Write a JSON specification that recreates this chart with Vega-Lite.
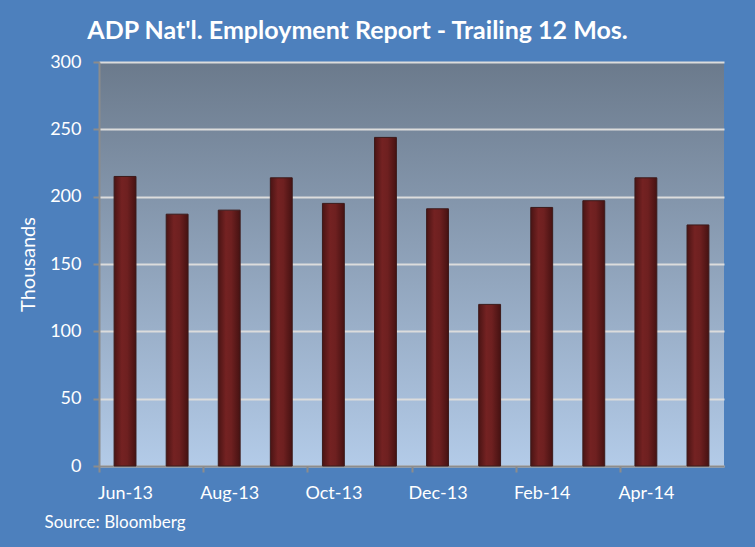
{
  "$schema": "https://vega.github.io/schema/vega-lite/v6.json",
  "width": 625,
  "height": 404,
  "autosize": "none",
  "padding": {"left": 99, "top": 62, "right": 31, "bottom": 81},
  "background": "#4d80bd",
  "title": {
    "text": "ADP Nat'l. Employment Report - Trailing 12 Mos.",
    "font": "Lato",
    "fontSize": 25,
    "fontWeight": "bold",
    "color": "white",
    "anchor": "middle",
    "dx": -54,
    "offset": 9
  },
  "data": {
    "values": [
      {"month": "Jun-13", "value": 215},
      {"month": "Jul-13", "value": 187},
      {"month": "Aug-13", "value": 190},
      {"month": "Sep-13", "value": 214},
      {"month": "Oct-13", "value": 195},
      {"month": "Nov-13", "value": 244},
      {"month": "Dec-13", "value": 191},
      {"month": "Jan-14", "value": 120},
      {"month": "Feb-14", "value": 192},
      {"month": "Mar-14", "value": 197},
      {"month": "Apr-14", "value": 214},
      {"month": "May-14", "value": 179}
    ]
  },
  "mark": {
    "type": "bar",
    "stroke": "#3c1a1a",
    "strokeWidth": 1,
    "color": {
      "gradient": "linear",
      "x1": 0, "y1": 0, "x2": 1, "y2": 0,
      "stops": [
        {"offset": 0, "color": "#4a1414"},
        {"offset": 0.35, "color": "#742222"},
        {"offset": 0.6, "color": "#6e2020"},
        {"offset": 1, "color": "#461212"}
      ]
    }
  },
  "encoding": {
    "x": {
      "field": "month",
      "type": "ordinal",
      "sort": null,
      "scale": {"paddingInner": 0.58, "paddingOuter": 0.29},
      "axis": {
        "values": ["Jun-13", "Aug-13", "Oct-13", "Dec-13", "Feb-14", "Apr-14"],
        "bandPosition": 0.5,
        "tickOffset": -26,
        "labelOffset": 26,
        "labelAngle": 0,
        "labelFont": "Lato",
        "labelFontSize": 18,
        "labelColor": "white",
        "labelPadding": 12,
        "tickColor": "#8c8c8c",
        "tickSize": 6,
        "tickWidth": 2,
        "domainColor": "#8c8c8c",
        "domainWidth": 2,
        "grid": false,
        "title": "Source: Bloomberg",
        "titleFont": "Lato",
        "titleFontSize": 17,
        "titleFontWeight": "normal",
        "titleColor": "white",
        "titleAlign": "left",
        "titleAnchor": "start",
        "titleX": -55,
        "titleY": 56,
        "titleBaseline": "middle"
      }
    },
    "y": {
      "field": "value",
      "type": "quantitative",
      "scale": {"domain": [0, 300]},
      "axis": {
        "values": [0, 50, 100, 150, 200, 250, 300],
        "title": "Thousands",
        "titleFont": "Lato",
        "titleFontSize": 20,
        "titleFontWeight": "normal",
        "titleColor": "white",
        "titlePadding": 11,
        "labelFont": "Lato",
        "labelFontSize": 18,
        "labelColor": "white",
        "labelPadding": 12,
        "tickColor": "#8c8c8c",
        "tickSize": 6,
        "tickWidth": 2,
        "domainColor": "#8c8c8c",
        "domainWidth": 2,
        "gridColor": "#dcdcdc",
        "gridWidth": 2
      }
    }
  },
  "config": {
    "view": {
      "stroke": null,
      "fill": {
        "gradient": "linear",
        "x1": 0, "y1": 0, "x2": 0, "y2": 1,
        "stops": [
          {"offset": 0, "color": "#6b7a8c"},
          {"offset": 1, "color": "#b3cbe8"}
        ]
      }
    }
  }
}
